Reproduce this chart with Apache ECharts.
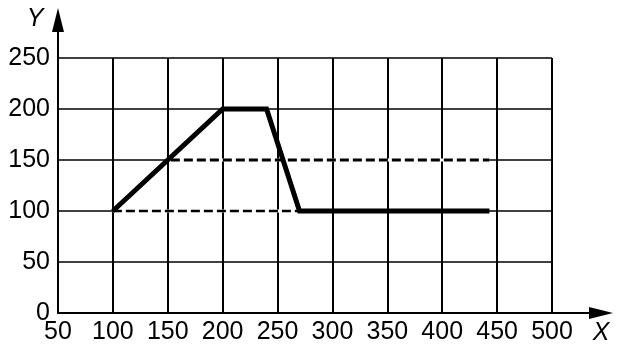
<!DOCTYPE html>
<html><head><meta charset="utf-8">
<script src="https://cdn.jsdelivr.net/npm/echarts@6/dist/echarts.min.js"></script>
<style>html,body{margin:0;padding:0;background:#fff}#c{width:619px;height:353px}</style>
</head><body><div id="c"></div>
<script>
const xTicks = [50,100,150,200,250,300,350,400,450,500];
const yTicks = [0,50,100,150,200,250];
const solidLine = [[100,100],[200,200],[240,200],[270,100],[443,100]];
const dashedUpper = [[100,100],[150,150],[443,150]];
const dashedLower = [[100,100],[272,100]];
const axisNames = {x:'X', y:'Y'};

const FONT = '"Liberation Sans", Arial, sans-serif';
const chart = echarts.init(document.getElementById('c'), null, {renderer:'canvas'});
const hidden = {show:false};
chart.setOption({
  animation:false,
  backgroundColor:'#fff',
  grid:[
    {left:58, right:67, top:58, bottom:40},
    {left:58, right:18, top:20, bottom:40}
  ],
  xAxis:[
    {type:'value', gridIndex:0, min:xTicks[0], max:xTicks[xTicks.length-1], interval:50,
     axisLine:hidden, axisTick:hidden,
     axisLabel:{color:'#000', fontSize:25, fontFamily:FONT, margin:7, showMinLabel:true, showMaxLabel:true},
     splitLine:{show:true, lineStyle:{color:'#000', width:2}}},
    {type:'value', gridIndex:1, min:0, max:1, axisTick:hidden, axisLabel:hidden, splitLine:hidden,
     axisLine:{show:true, lineStyle:{color:'#000', width:2}, symbol:['none','triangle'], symbolSize:[12,24]}}
  ],
  yAxis:[
    {type:'value', gridIndex:0, min:yTicks[0], max:yTicks[yTicks.length-1], interval:50,
     axisLine:hidden, axisTick:hidden,
     axisLabel:{color:'#000', fontSize:25, fontFamily:FONT, margin:8, showMinLabel:true, showMaxLabel:true},
     splitLine:{show:true, lineStyle:{color:'#000', width:1.5}}},
    {type:'value', gridIndex:1, min:0, max:1, axisTick:hidden, axisLabel:hidden, splitLine:hidden,
     axisLine:{show:true, lineStyle:{color:'#000', width:2}, symbol:['none','triangle'], symbolSize:[12,24]}}
  ],
  graphic:[
    {type:'text', x:35, y:19, style:{text:axisNames.y, font:'italic 25px '+FONT, fill:'#000', align:'center', verticalAlign:'middle'}},
    {type:'text', x:601, y:333, style:{text:axisNames.x, font:'italic 25px '+FONT, fill:'#000', align:'center', verticalAlign:'middle'}}
  ],
  series:[
    {type:'line', data:dashedUpper.slice(1), symbol:'none', lineStyle:{color:'#fff', width:3}, z:2},
    {type:'line', data:dashedLower, symbol:'none', lineStyle:{color:'#fff', width:3}, z:2},
    {type:'line', data:dashedUpper, symbol:'none', lineStyle:{color:'#000', width:3, type:[9,4]}, z:3},
    {type:'line', data:dashedLower, symbol:'none', lineStyle:{color:'#000', width:2.5, type:[9,4]}, z:3},
    {type:'line', data:solidLine, symbol:'none', lineStyle:{color:'#000', width:5, join:'miter'}, z:4}
  ]
});
</script></body></html>
